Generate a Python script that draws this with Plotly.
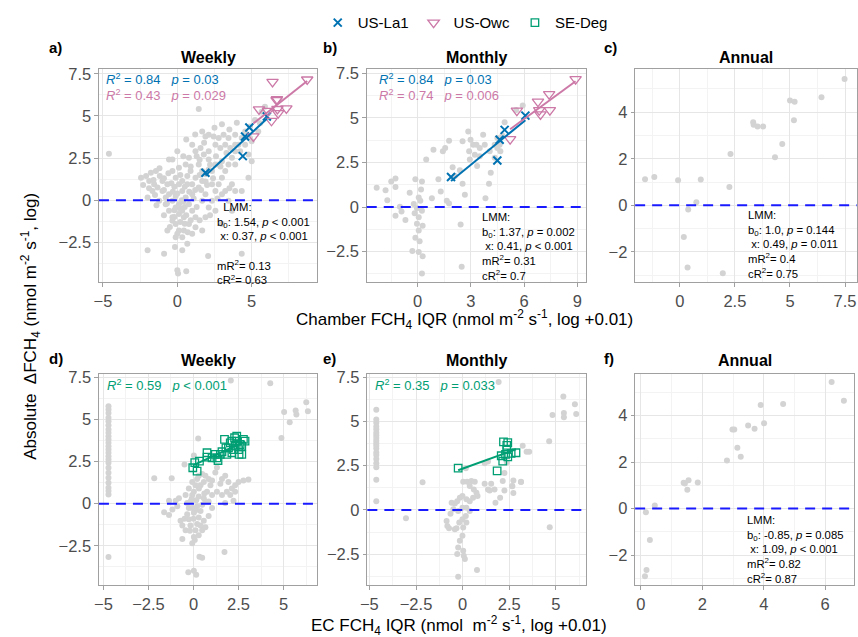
import numpy as np
import plotly.graph_objects as go

W, H = 858, 637
FONT = "Liberation Sans, Arial, sans-serif"
GRAY = "#d3d3d3"
BLUE = "#0072B2"
PINK = "#CC79A7"
GREEN = "#009E73"

# ---------------- data ----------------
# a) Weekly, chamber IQR vs abs dFCH4
a_gray = [(-4.6,2.75),(1.44,5.41),(-2.44,1.33),(-2.1,1.43),(-1.78,1.63),(-1.44,1.73),(-1.18,1.43),(-1.89,1.14),
          (-1.56,0.94),(-1.0,1.14),(-1.33,0.75),(-1.67,0.55),(-2.0,0.16),(-1.22,-0.04),(-0.78,-0.24),(-0.56,-0.63),
          (-0.33,-1.02),(-0.11,-1.41),(0.11,-1.8),(0.33,-2.2),(0.67,-2.59),(-0.16,-2.78),(-0.89,-3.18),(-2.0,-2.98),
          (0.0,-4.16),(0.05,-4.35),(0.6,-4.22),(2.07,-3.31),(4.33,-3.18),(-0.56,2.41),(-0.33,1.73),(-0.11,1.33),
          (0.11,0.94),(0.33,0.55),(0.56,0.16),(0.78,-0.24),(1.0,-0.63),(1.22,-1.02),(0.78,-1.41),(0.44,-1.8),
          (1.0,-2.0),(1.67,-1.8),(1.89,-1.02),(2.11,-0.43),(2.33,-0.04),(2.56,0.55),(2.78,0.94),(3.0,1.33),
          (3.22,1.73),(3.44,2.12),(3.67,2.51),(3.89,2.9),(4.11,3.29),(4.33,3.69),(4.56,4.08),(4.89,4.37),
          (5.22,4.76),(5.67,5.25),(5.89,5.55),(1.67,4.08),(1.89,3.78),(2.11,3.88),(2.44,3.78),(2.78,3.69),
          (3.11,3.88),(3.44,3.69),(3.89,3.88),(1.0,3.29),(1.22,2.9),(1.56,3.1),(1.78,2.71),(2.11,2.9),
          (2.56,3.29),(2.89,3.1),(3.22,3.29),(3.56,3.1),(3.89,3.29),(4.22,2.9),(2.11,2.41),(2.56,2.12),
          (3.0,2.31),(3.89,2.12),(0.78,2.51),(0.56,2.12),(0.11,1.92),(-0.33,2.41),(3.67,0.94),(3.89,0.55),
          (3.22,0.55),(2.33,0.94),(1.67,1.14),(1.44,0.75),(1.22,1.33),(1.0,0.94),(1.89,1.53),(2.33,1.73),
          (2.78,2.12),(1.44,2.12),(1.67,1.73),(1.0,0.35),(1.67,-0.04),(1.89,0.35),(2.56,-0.63),(3.0,0.35),
          (3.44,-0.04),(-0.56,0.35),(-0.33,-0.04),(-0.11,-0.43),(0.11,-0.82),(0.33,-0.63),(-0.33,-1.22),(0.11,-0.24),
          (0.44,-1.02),(-0.67,0.94),(-1.0,0.55),(-0.78,0.16),(-0.11,0.25),(0.33,1.14),(0.67,1.43),(0.89,1.73),
          (0.67,0.94),(-0.11,-2.2),(0.33,-2.98),(-0.67,-1.8),(1.22,-1.61),(3.0,-1.41),(3.67,-0.63),(4.33,0.55),
          (4.78,1.33),(5.0,2.31),(4.78,2.71),(4.56,3.29),(5.0,3.49),(5.44,4.08),(4.89,3.69),(5.56,4.57),
          (-1.5,0.3),(-0.9,0.6),(-0.4,1.0),(0.2,1.5),(0.5,0.8),(-0.2,-0.6),(0.6,-0.9),(0.2,-1.3),(-0.5,-1.6),
          (0.9,-1.2),(1.3,-0.4),(1.6,0.6),(2.0,0.9),(2.4,1.3),(-2.3,0.9),(-1.2,1.9),(0.0,2.9),(0.6,3.6),
          (1.2,3.9),(2.5,4.3),(3.0,4.5),(3.5,4.2),(4.0,4.6),(1.5,2.4),(2.2,2.1),(0.9,2.0),(-0.7,-0.2),
          (0.4,-0.1),(-0.3,0.5),(1.1,0.1),
          (-0.9,1.3),(-0.6,1.6),(-0.2,0.8),(0.0,0.4),(0.3,0.0),(0.5,-0.4),(0.8,0.5),(1.2,0.6),(1.5,1.5),
          (1.9,1.1),(2.1,1.8),(2.6,2.6),(2.9,2.0),(3.3,2.8),(1.8,3.4),(1.3,2.6),(0.4,2.6),(-1.6,1.2),
          (-1.9,0.7),(-1.4,-0.3),(-0.9,-0.9),(-0.2,-1.0),(0.2,-0.5),(0.5,-1.4),(0.0,-2.0),(0.7,-1.9),
          (1.5,-1.2),(2.2,-0.9),(2.7,0.1),(3.5,0.7)]
a_la1 = [(1.89,1.63),(4.84,4.31),(4.55,3.78),(4.4,2.61),(6.02,4.96)]
a_owc = [(8.73,7.16),(6.4,7.02),(6.67,5.94),(5.49,5.39),(6.73,5.41),(7.33,5.45),(6.78,5.16),(6.33,4.71),(5.11,3.78),
         (6.7,6.0),(6.1,5.3)]

# b) Monthly
b_gray = [(-2.31,1.09),(-1.81,0.94),(-1.71,0.39),(-1.49,1.43),(-1.25,1.61),(-1.25,1.13),(-1.0,0.02),(-1.25,-0.48),
          (-0.91,-0.24),(-0.69,-0.72),(-0.45,0.81),(-0.13,1.56),(0.24,1.43),(0.19,0.98),(0.06,0.54),(0.15,0.35),
          (-0.22,0.17),(-0.04,-0.06),(0.24,-0.2),(-0.17,-0.35),(0.06,-0.57),(-0.04,-0.94),(0.28,-1.04),(0.06,-1.31),
          (-0.13,-1.72),(0.11,-1.91),(-0.3,-2.46),(0.06,-2.52),(0.28,-2.76),(0.24,-3.72),(2.48,-3.35),(2.42,-0.98),
          (0.48,2.67),(0.89,3.22),(1.42,3.13),(1.55,3.31),(1.77,3.72),(1.17,1.56),(1.3,0.87),(1.64,0.35),
          (1.77,0.2),(0.8,0.5),(1.97,2.24),(2.1,1.74),(2.38,2.06),(2.53,1.31),(2.66,0.69),(2.53,3.69),
          (2.85,4.24),(2.98,3.78),(2.9,3.13),(3.13,3.5),(3.31,3.5),(3.5,3.31),(3.69,4.06),(3.78,3.5),
          (3.22,2.94),(2.94,2.67),(3.35,2.3),(3.5,2.85),(4.02,1.31),(3.82,0.5),(4.12,1.93),(4.34,2.76),
          (4.49,3.31),(4.62,3.5),(4.77,4.02),(4.9,4.76),(5.55,5.44),(5.92,5.69),(4.49,3.87),(4.34,3.5),
          (4.06,3.13),(4.66,3.13)]
b_la1 = [(1.88,1.69),(4.9,4.33),(4.62,3.78),(4.49,2.61),(6.07,5.13)]
b_owc = [(8.9,7.17),(7.41,6.33),(6.78,5.91),(5.59,5.41),(6.85,5.44),(6.92,5.2),(7.45,5.44),(5.21,3.81)]

# c) Annual
c_gray = [(-1.58,1.12),(-1.16,1.22),(-0.08,1.08),(0.95,1.11),(0.75,0.13),(0.38,-0.18),(0.18,-1.36),(0.35,-2.67),
          (1.95,-2.92),(2.25,0.79),(2.3,2.21),(3.33,3.57),(3.35,3.46),(3.53,3.39),(3.78,3.39),(4.65,2.64),
          (4.32,2.07),(5.0,4.5),(5.21,4.45),(5.18,3.66),(6.43,4.64),(7.48,5.43)]

# d) Weekly, EC IQR vs abs dFCH4
d_gray = [(-4.72,5.78),(-4.72,5.58),(-4.72,5.38),(-4.72,5.09),(-4.72,4.89),(-4.72,4.65),(-4.72,4.4),(-4.72,4.2),
          (-4.72,4.0),(-4.72,3.81),(-4.72,3.61),(-4.72,3.41),(-4.72,3.22),(-4.72,3.02),(-4.72,2.82),(-4.72,2.62),
          (-4.72,2.43),(-4.72,2.13),(-4.72,1.83),(-4.72,1.54),(-4.72,1.24),(-4.72,0.95),(-4.72,0.75),(-4.72,0.55),
          (-4.72,-3.16),(2.07,7.3),(4.26,7.14),(6.26,6.02),(6.35,5.48),(5.03,5.44),(5.67,5.52),(5.71,5.29),
          (5.34,4.83),(4.88,3.9),(0.26,3.87),
          (-2.18,1.51),(-1.21,1.51),(-0.5,2.33),(0.02,2.86),(-1.36,0.17),(-0.99,0.17),(-1.63,-0.5),(-1.36,-0.67),
          (-1.17,-0.34),(-0.9,-0.15),(-0.81,0.32),(-0.72,-1.01),(-0.62,-1.3),(-0.62,-2.1),(-0.44,-1.58),(-0.35,-0.63),
          (-0.26,-0.25),(-0.17,0.13),(-0.07,0.52),(0.02,0.71),(0.11,1.09),(0.2,1.47),(0.29,1.66),(0.48,1.76),
          (0.66,1.66),(0.84,1.47),(0.94,1.09),(0.75,0.71),(0.57,0.32),(0.48,-0.06),(0.39,-0.44),(0.29,-0.82),
          (0.2,-1.2),(0.11,-1.58),(0.02,-1.97),(-0.07,-2.35),(-0.17,-1.3),(-0.26,-0.92),(0.02,-0.53),(0.2,-0.15),
          (-0.07,-0.25),(-0.35,0.04),(-0.44,0.52),(-0.26,0.9),(-0.07,1.28),(0.39,1.09),(0.57,1.28),(0.29,0.42),
          (0.66,0.13),(0.39,-1.3),(0.57,-1.01),(0.29,-1.87),(0.07,-2.16),(0.33,-3.15),(0.48,-3.21),(-0.29,-4.06),
          (0.02,-3.97),(0.15,-4.22),(1.72,-2.86),(1.21,1.85),(1.49,1.18),(1.76,1.66),(1.94,1.28),(2.13,0.9),
          (2.31,0.71),(2.5,1.28),(2.77,1.37),(3.05,1.43),(1.3,0.71),(1.58,0.52),(1.76,0.04),(2.22,0.17),
          (1.03,1.37),(1.3,2.14),(1.58,1.47),(1.85,0.71),(2.31,1.09),(2.04,0.52),(1.03,0.52),(0.84,0.13),
          (1.03,-0.25),(0.84,-0.73),(0.66,-1.39),(0.48,-1.58),(-0.1,0.3),(0.1,-0.4),(-0.2,-1.6),(0.3,0.9),
          (0.0,-0.9),(-0.5,-0.9),(0.6,0.6),(0.15,0.2)]
d_deg = [(-0.04,2.13),(0.2,1.93),(0.07,2.43),(0.33,2.52),(0.75,3.02),(0.75,2.76),(1.3,2.72),(1.36,2.56),
         (1.49,2.92),(1.58,3.08),(1.72,3.81),(1.8,3.31),(2.04,3.61),(2.13,3.02),(2.28,3.91),(2.31,3.41),
         (2.4,3.71),(2.5,3.21),(2.53,2.92),(2.68,2.92),(2.77,3.81),(2.86,3.71),(2.59,3.51),(1.94,3.31),
         (2.22,3.21),(2.4,4.0),(2.13,3.71),(2.68,3.41),(1.85,2.92),(1.21,2.92),(1.03,2.72)]

# e) Monthly
e_gray = [(-4.63,5.66),(-4.63,5.1),(-4.63,4.92),(-4.63,4.71),(-4.63,4.55),(-4.63,4.36),(-4.63,4.21),(-4.63,4.06),
          (-4.63,3.91),(-4.63,3.77),(-4.63,3.62),(-4.63,3.47),(-4.63,3.25),(-4.63,3.1),(-4.63,2.88),(-4.63,2.63),
          (-4.63,2.41),(-4.63,1.71),(-4.63,0.5),(-2.15,1.56),(-3.04,-0.46),(1.93,7.22),(5.4,6.4),(4.82,5.36),
          (5.43,5.47),(5.43,5.23),(6.02,5.97),(6.09,5.42),(4.64,3.88),(4.67,-0.98),(3.22,3.62),(3.43,3.28),
          (3.57,3.28),(3.13,1.58),(2.72,0.96),(2.66,1.34),(2.24,2.08),(2.37,2.69),(1.18,2.63),(1.36,2.73),
          (0.17,2.36),
          (0.03,1.59),(0.24,1.59),(0.47,1.63),(0.65,1.59),(0.38,1.35),(0.6,1.16),(0.74,0.97),(0.8,0.79),
          (0.56,0.69),(0.38,0.5),(0.2,0.6),(-0.01,0.79),(-0.15,0.69),(-0.29,0.5),(-0.42,0.36),(-0.59,0.41),
          (-0.65,-0.21),(-0.5,0.04),(-0.24,-0.06),(-0.01,0.13),(0.2,0.13),(0.38,-0.06),(0.17,-0.34),(-0.01,-0.52),
          (-0.18,-0.71),(-0.33,-1.03),(-0.42,-1.08),(0.03,-0.99),(0.2,-0.71),(-0.01,-1.46),(-0.15,-1.74),(-0.24,-2.11),
          (0.03,-2.3),(-0.29,-2.49),(0.06,-2.58),(0.12,-2.77),(0.77,-3.38),(-0.24,-3.76),(-0.86,-0.62),(-0.82,-0.9),
          (-0.73,-1.03),(1.18,1.48),(1.36,1.16),(1.53,1.48),(1.71,1.16),(1.45,1.1),(1.76,0.41),(2.01,0.69),
          (2.24,1.1),(2.66,1.35),(2.72,1.66),(3.13,1.59),(2.15,1.63)]
e_deg = [(-0.24,2.36),(1.85,2.21),(2.19,3.84),(2.42,3.8),(2.37,3.43),(2.3,3.14),(2.07,3.06),(2.15,2.76),
         (2.42,3.0),(2.6,3.19),(2.86,3.23),(2.37,3.65)]

# f) Annual
f_gray = [(6.21,5.45),(6.61,4.64),(4.63,4.5),(3.9,4.45),(4.01,3.67),(3.49,3.57),(2.98,3.4),(3.04,3.4),
          (3.7,3.43),(3.14,2.62),(3.25,2.23),(2.8,2.07),(1.55,1.22),(1.39,1.11),(1.43,1.08),(1.85,1.12),
          (1.51,0.81),(0.45,0.13),(0.16,-0.16),(0.29,-1.35),(0.18,-2.64),(0.13,-2.91)]

# fit labels
SP = "\u00a0\u00a0\u00a0"
a_fit_txt = [("<i>R</i><sup>2</sup> = 0.84" + SP + "<i>p</i> = 0.03", BLUE),
             ("<i>R</i><sup>2</sup> = 0.43" + SP + "<i>p</i> = 0.029", PINK)]
b_fit_txt = [("<i>R</i><sup>2</sup> = 0.84" + SP + "<i>p</i> = 0.03", BLUE),
             ("<i>R</i><sup>2</sup> = 0.74" + SP + "<i>p</i> = 0.006", PINK)]
d_fit_txt = [("<i>R</i><sup>2</sup> = 0.59" + SP + "<i>p</i> < 0.001", GREEN)]
e_fit_txt = [("<i>R</i><sup>2</sup> = 0.35" + SP + "<i>p</i> = 0.033", GREEN)]

a_lmm = ["\u00a0\u00a0LMM:", "b<sub>0</sub>: 1.54, <i>p</i> < 0.001", "\u00a0x: 0.37, <i>p</i> < 0.001", "", "mR<sup>2</sup>= 0.13", "cR<sup>2</sup>= 0.63"]
b_lmm = ["LMM:", "b<sub>0</sub>: 1.37, <i>p</i> = 0.002", "\u00a0x: 0.41, <i>p</i> < 0.001", "mR<sup>2</sup>= 0.31", "cR<sup>2</sup>= 0.7"]
c_lmm = ["LMM:", "b<sub>0</sub>: 1.0, <i>p</i> = 0.144", "\u00a0x: 0.49, <i>p</i> = 0.011", "mR<sup>2</sup>= 0.4", "cR<sup>2</sup>= 0.75"]
f_lmm = ["LMM:", "b<sub>0</sub>: -0.85, <i>p</i> = 0.085", "\u00a0x: 1.09, <i>p</i> < 0.001", "mR<sup>2</sup>= 0.82", "cR<sup>2</sup>= 0.87"]

# ---------------- layout spec (pixels) ----------------
def fx(p): return p / W
def fy(p): return 1 - p / H

panels = [
    dict(lab="a)", title="Weekly", xd=(92.7, 313), yd=(64, 279), xr=(-5.27, 9.42), yr=(-4.88, 7.76),
         xt=[-5, 0, 5], xm=[-2.5, 2.5, 7.5], yt=[-2.5, 0, 2.5, 5, 7.5], ym=[-3.75, -1.25, 1.25, 3.75, 6.25]),
    dict(lab="b)", title="Monthly", xd=(362.7, 583.3), yd=(64, 279), xr=(-2.87, 9.46), yr=(-4.22, 7.72),
         xt=[0, 3, 6, 9], xm=[-1.5, 1.5, 4.5, 7.5], yt=[-2.5, 0, 2.5, 5, 7.5], ym=[-3.75, -1.25, 1.25, 3.75, 6.25]),
    dict(lab="c)", title="Annual", xd=(633.3, 856.7), yd=(64, 279), xr=(-2.03, 8.03), yr=(-3.31, 5.84),
         xt=[0, 2.5, 5, 7.5], xm=[-1.25, 1.25, 3.75, 6.25], yt=[-2, 0, 2, 4], ym=[-3, -1, 1, 3, 5]),
    dict(lab="d)", title="Weekly", xd=(92.7, 313), yd=(371.5, 585), xr=(-5.25, 6.88), yr=(-4.85, 7.69),
         xt=[-5, -2.5, 0, 2.5, 5], xm=[-3.75, -1.25, 1.25, 3.75, 6.25], yt=[-2.5, 0, 2.5, 5, 7.5], ym=[-3.75, -1.25, 1.25, 3.75, 6.25]),
    dict(lab="e)", title="Monthly", xd=(363.3, 583.3), yd=(371, 585), xr=(-5.11, 6.59), yr=(-4.26, 7.70),
         xt=[-5, -2.5, 0, 2.5, 5], xm=[-3.75, -1.25, 1.25, 3.75, 6.25], yt=[-2.5, 0, 2.5, 5, 7.5], ym=[-3.75, -1.25, 1.25, 3.75, 6.25]),
    dict(lab="f)", title="Annual", xd=(633.3, 854), yd=(371, 585), xr=(-0.19, 6.94), yr=(-3.31, 5.81),
         xt=[0, 2, 4, 6], xm=[1, 3, 5], yt=[-2, 0, 2, 4], ym=[-3, -1, 1, 3, 5]),
]

def lab(v):
    return ("%g" % v).replace("-", "\u2212")

fig = go.Figure()
layout = dict(width=W, height=H, margin=dict(l=0, r=0, t=0, b=0), paper_bgcolor="white", plot_bgcolor="white",
              font=dict(family=FONT, color="black"))
annotations = []
shapes = []
AX = "#a0a0a0"
for i, p in enumerate(panels):
    n = "" if i == 0 else str(i + 1)
    common = dict(showline=True, mirror=True, linecolor=AX, linewidth=1, ticks="outside", ticklen=3.5, tickcolor=AX,
                  showgrid=True, gridcolor="#e6e6e6", gridwidth=1, zeroline=False,
                  tickfont=dict(size=16.5, color="#4d4d4d", family=FONT))
    layout["xaxis" + n] = dict(common, domain=[fx(p["xd"][0]), fx(p["xd"][1])], range=list(p["xr"]),
                               anchor="y" + n, tickvals=p["xt"], ticktext=[lab(v) for v in p["xt"]],
                               minor=dict(tickvals=p["xm"], showgrid=True, gridcolor="#f3f3f3", ticklen=0))
    layout["yaxis" + n] = dict(common, domain=[fy(p["yd"][1]), fy(p["yd"][0])], range=list(p["yr"]),
                               anchor="x" + n, tickvals=p["yt"], ticktext=[lab(v) for v in p["yt"]],
                               minor=dict(tickvals=p["ym"], showgrid=True, gridcolor="#f3f3f3", ticklen=0))
    shapes.append(dict(type="line", xref="x" + n + " domain", yref="y" + n, x0=0, x1=1, y0=0, y1=0,
                       line=dict(color="#1a1aff", width=2, dash="10px,7px"), layer="above"))
    cx = (p["xd"][0] + p["xd"][1]) / 2
    ty = 52 if i < 3 else 358
    annotations.append(dict(text="<b>%s</b>" % p["title"], x=fx(cx), y=fy(ty), xref="paper", yref="paper",
                            showarrow=False, xanchor="center", yanchor="middle", font=dict(size=16)))
    lx = {0: 40, 1: 317, 2: 600}[i % 3]
    ly = 42 if i < 3 else 356
    annotations.append(dict(text="<b>%s</b>" % p["lab"], x=fx(lx), y=fy(ly), xref="paper", yref="paper",
                            showarrow=False, xanchor="left", yanchor="middle", font=dict(size=15)))

def axn(i):
    return ("x", "y") if i == 0 else ("x%d" % (i + 1), "y%d" % (i + 1))

def pts(i, data, color, name=None, symbol="circle", size=6, lw=0, legend=False):
    xa, ya = axn(i)
    xs = [d[0] for d in data]
    ys = [d[1] for d in data]
    mk = dict(color=color, size=size, symbol=symbol)
    if lw:
        mk["line"] = dict(color=color, width=lw)
    fig.add_trace(go.Scatter(x=xs, y=ys, mode="markers", marker=mk, xaxis=xa, yaxis=ya,
                             name=name, showlegend=legend, legendgroup=name, hoverinfo="skip"))

def fit(i, data, color):
    xa, ya = axn(i)
    xs = np.array([d[0] for d in data])
    ys = np.array([d[1] for d in data])
    k, b = np.polyfit(xs, ys, 1)
    xl = np.array([xs.min(), xs.max()])
    fig.add_trace(go.Scatter(x=xl, y=k * xl + b, mode="lines", line=dict(color=color, width=2),
                             xaxis=xa, yaxis=ya, showlegend=False, hoverinfo="skip"))

# gray clouds
for i, g in enumerate([a_gray, b_gray, c_gray, d_gray, e_gray, f_gray]):
    pts(i, g, GRAY, size=6)

pts(0, a_la1, BLUE, "US-La1", "x-thin-open", 8, 2, legend=True)
pts(0, a_owc, PINK, "US-Owc", "triangle-down-open", 10, 1.3, legend=True)
pts(3, d_deg, GREEN, "SE-Deg", "square-open", 7.5, 1.3, legend=True)
pts(1, b_la1, BLUE, "US-La1", "x-thin-open", 8, 2)
pts(1, b_owc, PINK, "US-Owc", "triangle-down-open", 10, 1.3)
pts(4, e_deg, GREEN, "SE-Deg", "square-open", 7.5, 1.3)

fit(0, a_la1, BLUE); fit(0, a_owc, PINK)
fit(1, b_la1, BLUE); fit(1, b_owc, PINK)
fit(3, d_deg, GREEN); fit(4, e_deg, GREEN)

# fit stat texts
for (txts, x0, y0) in [(a_fit_txt, 98, 74), (b_fit_txt, 372.7, 74), (d_fit_txt, 99.3, 383), (e_fit_txt, 369.3, 383)]:
    for j, (t, c) in enumerate(txts):
        annotations.append(dict(text=t, x=fx(x0), y=fy(y0 + 16 * j), xref="paper", yref="paper", showarrow=False,
                                xanchor="left", yanchor="middle", height=14, font=dict(size=13, color=c)))

# LMM blocks (one text block each, lines separated by <br>)
for (lines, x0, yc) in [(a_lmm, 210, 240),
                        (b_lmm, 476.7, 242.5),
                        (c_lmm, 745, 240.8),
                        (f_lmm, 744, 548.4)]:
    annotations.append(dict(text="<br>".join(lines), x=fx(x0), y=fy(yc), xref="paper", yref="paper",
                            showarrow=False, xanchor="left", yanchor="middle", align="left",
                            font=dict(size=11.3, color="black")))

# axis titles
annotations.append(dict(text="Chamber FCH<sub>4</sub> IQR (nmol m<sup>-2</sup> s<sup>-1</sup>, log +0.01)",
                        x=fx(461), y=fy(316), xref="paper", yref="paper", showarrow=False,
                        xanchor="center", yanchor="middle", font=dict(size=17)))
annotations.append(dict(text="EC FCH<sub>4</sub> IQR (nmol\u00a0 m<sup>-2</sup> s<sup>-1</sup>, log +0.01)",
                        x=fx(456), y=fy(625), xref="paper", yref="paper", showarrow=False,
                        xanchor="center", yanchor="middle", font=dict(size=17)))
annotations.append(dict(text="Absolute\u00a0 \u0394FCH<sub>4</sub> (nmol m<sup>-2</sup> s<sup>-1</sup>, log)",
                        x=fx(24), y=fy(323), xref="paper", yref="paper", showarrow=False, textangle=-90,
                        xanchor="center", yanchor="middle", font=dict(size=17)))

layout["annotations"] = annotations
layout["shapes"] = shapes
layout["legend"] = dict(orientation="h", x=fx(462), xanchor="center", y=fy(17), yanchor="middle",
                        font=dict(size=15), itemwidth=30, bgcolor="rgba(0,0,0,0)", tracegroupgap=0)
fig.update_layout(**layout)
fig.write_html("out.html")
